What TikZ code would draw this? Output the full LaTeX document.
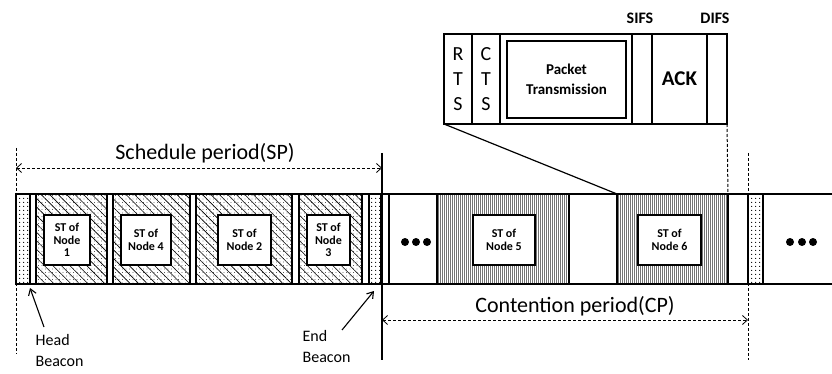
\documentclass[tikz,border=0pt]{standalone}
\usepackage{fontspec}
\setmainfont{Carlito}
\usetikzlibrary{patterns.meta,arrows.meta}
\begin{document}
\begin{tikzpicture}[x=1pt,y=-1pt,line width=1.3pt,
  region/.style={draw,rectangle,inner sep=0pt,outer sep=0pt,anchor=north west,minimum height=90pt},
  hatch/.style={region,
    preaction={pattern={Dots[distance=3.5pt,radius=0.4pt]}},
    preaction={pattern={Lines[angle=-45,distance=6pt,line width=0.6pt]}}},
  beacon/.style={region,preaction={pattern={Dots[distance=4pt,radius=0.75pt]}}},
  grayfill/.style={preaction={pattern={Lines[angle=90,distance=2pt,line width=0.8pt]},pattern color=black!55}},
  contend/.style={region,grayfill},
  plain/.style={region},
  inner/.style={draw,fill=white,line width=2pt,rectangle,inner sep=0pt,anchor=north west,minimum height=50pt,
    font=\bfseries\fontsize{12}{12.5}\selectfont,align=center},
  dotc/.style={circle,fill=black,inner sep=0pt,minimum size=8pt},
  cell/.style={draw,rectangle,inner sep=0pt,outer sep=0pt,anchor=north west,minimum height=90pt,fill=white},
  period/.style={font=\fontsize{22}{26}\selectfont,anchor=base},
  small/.style={font=\fontsize{16}{21}\selectfont,align=left,anchor=north west,inner sep=0pt},
  span/.style={densely dashed,line width=0.8pt,{Straight Barb[length=5pt,width=9pt]}-{Straight Barb[length=5pt,width=9pt]}},
  pointer/.style={line width=1.1pt,-{Straight Barb[length=6pt,width=8pt]}},
  guide/.style={densely dashed,line width=1pt}]
\useasboundingbox (0,0) rectangle (832,374);

% main strip
\draw (16,194) -- (832,194);
\draw[line width=2pt] (16,284) -- (832,284);
\node[beacon,minimum width=14pt] (hb) at (16,194) {};
\node[plain,minimum width=6pt] (g1) at (30,194) {};
\node[hatch,minimum width=71pt] (b1) at (36,194) {};
\node[plain,minimum width=6pt] (g2) at (107,194) {};
\node[hatch,minimum width=77pt] (b2) at (113,194) {};
\node[plain,minimum width=6pt] (g3) at (190,194) {};
\node[hatch,minimum width=96pt] (b3) at (196,194) {};
\node[plain,minimum width=7pt] (g4) at (292,194) {};
\node[hatch,minimum width=63pt] (b4) at (299,194) {};
\node[plain,minimum width=7pt] (g5) at (362,194) {};
\node[beacon,minimum width=12pt] (eb) at (369,194) {};
\node[plain,minimum width=8pt] (g6) at (381,194) {};
\node[plain,minimum width=48pt] (d1) at (389,194) {};
\node[contend,minimum width=132pt] (n5) at (437,194) {};
\node[plain,minimum width=48pt] (g7) at (569,194) {};
\node[contend,minimum width=111pt] (n6) at (617,194) {};
\node[plain,minimum width=20pt] (g8) at (728,194) {};
\node[beacon,minimum width=15pt] (rb) at (748,194) {};

% inner boxes
\node[inner,minimum width=46pt] (i1) at (43,214) {ST of\\Node\\1};
\node[inner,minimum width=50pt] (i2) at (120,214) {ST of\\Node 4};
\node[inner,minimum width=53pt] (i3) at (217,214) {ST of\\Node 2};
\node[inner,minimum width=43pt] (i4) at (306,214) {ST of\\Node\\3};
\node[inner,minimum width=62pt] (i5) at (472,214) {ST of\\Node 5};
\node[inner,minimum width=63pt] (i6) at (637,214) {ST of\\Node 6};

% ellipsis dots
\node[dotc] (e1) at (405,242) {};
\node[dotc] (e2) at (416,242) {};
\node[dotc] (e3) at (427,242) {};
\node[dotc] (e4) at (790,242) {};
\node[dotc] (e5) at (802,242) {};
\node[dotc] (e6) at (813,242) {};

% guide lines
\coordinate (l1) at (16,148); \coordinate (l2) at (16,354);
\coordinate (m1) at (382,153); \coordinate (m2) at (382,360);
\coordinate (r1) at (748,153); \coordinate (r2) at (748,360);
\draw[guide] (l1) -- (l2);
\draw[line width=1.2pt] (m1) -- (m2);
\draw[guide] (r1) -- (r2);

% period spans
\coordinate (sa) at (16,168); \coordinate (sb) at (382,168);
\draw[span] (sa) -- (sb);
\node[period] (sp) at (205,160) {Schedule period(SP)};
\coordinate (ca) at (382,320); \coordinate (cb) at (748,320);
\draw[span] (ca) -- (cb);
\node[period] (cp) at (575,312) {Contention period(CP)};

% beacon labels
\node[small] (hl) at (35,334) {Head\\Beacon};
\node[small] (el) at (302,330) {End\\Beacon};
\coordinate (ha) at (44,327); \coordinate (hz) at (30,288);
\draw[pointer] (ha) -- (hz);
\coordinate (ea) at (342,330); \coordinate (ez) at (374,291);
\draw[pointer] (ea) -- (ez);

% packet detail
\node[cell,minimum width=28pt] (rts) at (444,34) {};
\node[cell,minimum width=28pt] (cts) at (472,34) {};
\node[cell,minimum width=132pt,grayfill] (pt) at (500,34) {};
\node[cell,minimum width=20pt] (sifs) at (632,34) {};
\node[cell,minimum width=55pt] (ack) at (652,34) {};
\node[cell,minimum width=20pt] (difs) at (707,34) {};
\node[draw,fill=white,line width=2pt,rectangle,inner sep=0pt,anchor=north west,minimum width=119pt,minimum height=77pt,
  font=\bfseries\fontsize{15}{20}\selectfont,align=center] (ptx) at (506,40) {Packet\\Transmission};
\node[font=\fontsize{20}{25}\selectfont,align=center,inner sep=0pt] at (rts.center) {R\\T\\S};
\node[font=\fontsize{20}{25}\selectfont,align=center,inner sep=0pt] at (cts.center) {C\\T\\S};
\node[font=\bfseries\fontsize{21}{25}\selectfont,inner sep=0pt] at (ack.center) {ACK};
\node[font=\bfseries\fontsize{16}{20}\selectfont,inner sep=0pt] (sl) at (640,18) {SIFS};
\node[font=\bfseries\fontsize{16}{20}\selectfont,inner sep=0pt] (dl) at (715,18) {DIFS};

\draw[line width=1.2pt] (rts.south west) -- (n6.north west);
\draw[guide] (difs.south east) -- (n6.north east);
\end{tikzpicture}
\end{document}
